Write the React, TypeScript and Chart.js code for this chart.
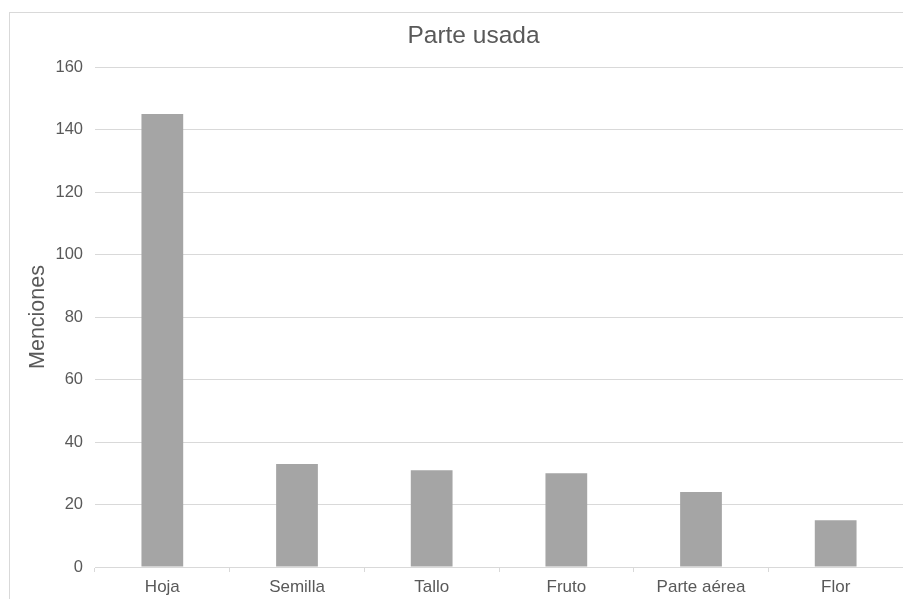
import React, { useEffect, useRef } from "react";
import { Chart, registerables } from "chart.js";

Chart.register(...registerables);

const categories = ["Hoja", "Semilla", "Tallo", "Fruto", "Parte aérea", "Flor"];
const menciones = [145, 33, 31, 30, 24, 15];
const chartTitle = "Parte usada";
const yAxisTitle = "Menciones";
const yMin = 0;
const yMax = 160;
const yStep = 20;

const FONT = "'Liberation Sans', Arial, 'DejaVu Sans', sans-serif";
const TEXT = "#595959";
const GRID = "#d9d9d9";

const framePlugin = {
  id: "frame",
  beforeDraw(chart: any) {
    const ctx = chart.ctx;
    ctx.save();
    ctx.fillStyle = "#ffffff";
    ctx.fillRect(0, 0, chart.width, chart.height);
    ctx.strokeStyle = GRID;
    ctx.lineWidth = 1;
    ctx.strokeRect(9.5, 12.5, 1000, 1000);
    ctx.restore();
  },
  afterDraw(chart: any) {
    const ctx = chart.ctx;
    ctx.save();
    ctx.fillStyle = TEXT;
    ctx.font = `24.5px ${FONT}`;
    ctx.textAlign = "center";
    ctx.textBaseline = "alphabetic";
    ctx.fillText(chartTitle, 473.5, 43);
    ctx.restore();
  },
};

export default function App() {
  const ref = useRef<HTMLCanvasElement | null>(null);

  useEffect(() => {
    if (!ref.current) return;
    document.body.style.overflow = "hidden";
    const chart = new Chart(ref.current, {
      type: "bar",
      data: {
        labels: categories,
        datasets: [
          {
            label: yAxisTitle,
            data: menciones,
            backgroundColor: "#a5a5a5",
            borderWidth: 0,
            categoryPercentage: 1,
            barPercentage: 0.31,
          },
        ],
      },
      options: {
        animation: false,
        responsive: false,
        maintainAspectRatio: false,
        layout: { padding: { left: 9, top: 67, right: 0, bottom: 0 } },
        plugins: {
          legend: { display: false },
          title: { display: false },
          tooltip: { enabled: false },
        },
        scales: {
          x: {
            offset: true,
            grid: {
              display: true,
              drawOnChartArea: false,
              drawTicks: true,
              tickLength: 5,
              color: GRID,
              offset: true,
            },
            border: { display: true, color: GRID },
            ticks: {
              color: TEXT,
              font: { family: FONT, size: 17 },
              padding: 5,
              maxRotation: 0,
              autoSkip: false,
            },
            afterFit(scale: any) {
              scale.height = 32;
            },
          },
          y: {
            min: yMin,
            max: yMax,
            grid: { color: GRID, drawTicks: false },
            border: { display: false },
            ticks: {
              stepSize: yStep,
              color: TEXT,
              font: { family: FONT, size: 16.5 },
              padding: 12,
            },
            title: {
              display: true,
              text: yAxisTitle,
              color: TEXT,
              font: { family: FONT, size: 21.5 },
              padding: { top: 16, bottom: 0 },
            },
            afterFit(scale: any) {
              scale.width = 86;
            },
          },
        },
      },
      plugins: [framePlugin],
    });
    return () => chart.destroy();
  }, []);

  return (
    <div style={{ position: "fixed", left: 0, top: 0, width: 903, height: 599, overflow: "hidden", background: "#fff" }}>
      <canvas ref={ref} width={903} height={599} style={{ display: "block", width: 903, height: 599 }} />
    </div>
  );
}
